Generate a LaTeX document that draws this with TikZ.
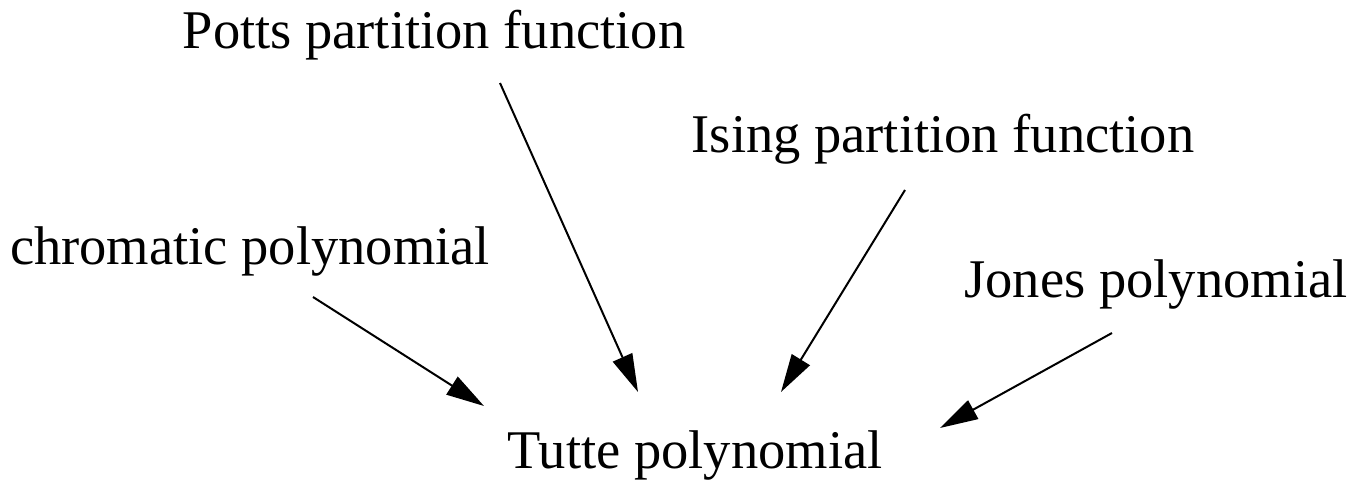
\documentclass[tikz,border=0pt]{standalone}
\usepackage{fontspec}
\setmainfont{Liberation Serif}
\usetikzlibrary{arrows.meta}
\begin{document}
\begin{tikzpicture}[x=1pt,y=1pt,
  lbl/.style={anchor=base,inner sep=0pt,font=\fontsize{54.5}{62}\selectfont},
  arr/.style={line width=2pt,-{Triangle[length=38pt,width=21pt]}}]
\useasboundingbox (0,0) rectangle (1350,488);
\node[lbl] (potts) at (434,439) {Potts partition function};
\node[lbl] (ising) at (943,335) {Ising partition function};
\node[lbl] (chrom) at (250,223) {chromatic polynomial};
\node[lbl] (jones) at (1156,190) {Jones polynomial};
\node[lbl] (tutte) at (695,20) {Tutte polynomial};
\draw[arr] ([shift={(63,-32)}]chrom.base) -- ([shift={(-211,62)}]tutte.base);
\draw[arr] ([shift={(66,-34)}]potts.base) -- ([shift={(-57,76)}]tutte.base);
\draw[arr] ([shift={(-38,-37)}]ising.base) -- ([shift={(86,76)}]tutte.base);
\draw[arr] ([shift={(-44,-35)}]jones.base) -- ([shift={(245,40)}]tutte.base);
\end{tikzpicture}
\end{document}
